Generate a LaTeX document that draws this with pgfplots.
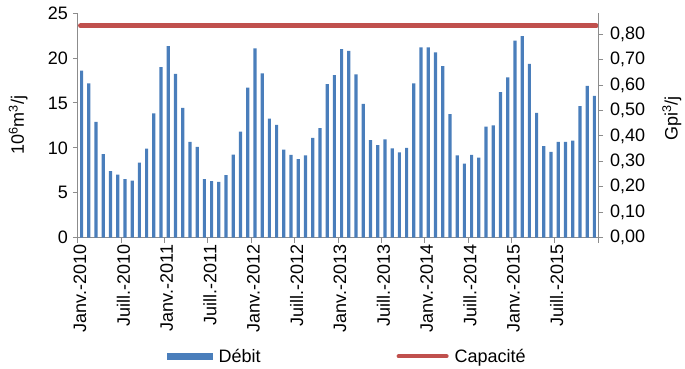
\documentclass[border=0pt]{standalone}
\usepackage{fontspec}
\setmainfont{Liberation Sans}
\usepackage{pgfplots}
\pgfplotsset{compat=1.18}
\definecolor{barblue}{HTML}{4A7EBB}
\definecolor{capred}{HTML}{C0504D}
\definecolor{axgray}{HTML}{8C8C8C}
\newcommand{\fs}{\fontsize{18}{21}\selectfont}
\begin{document}
\begin{tikzpicture}
\begin{axis}[
  at={(0,0)}, anchor=south west,
  scale only axis, width=520pt, height=224.2pt,
  xmin=0, xmax=72, ymin=0, ymax=25,
  axis x line*=bottom, axis y line*=left,
  axis line style={axgray, line width=1pt},
  tick style={axgray, line width=1pt},
  tick align=outside, major tick length=5pt,
  xtick={0,6,12,18,24,30,36,42,48,54,60,66,72},
  xticklabels={Janv.-2010,Juill.-2010,Janv.-2011,Juill.-2011,Janv.-2012,Juill.-2012,Janv.-2013,Juill.-2013,Janv.-2014,Juill.-2014,Janv.-2015,Juill.-2015,},
  xticklabel style={rotate=90, anchor=east, font=\fs, inner sep=2pt, xshift=0pt, yshift=-2pt},
  ytick={0,5,10,15,20,25},
  yticklabel style={font=\fs, inner sep=2pt, xshift=-3pt},
  /pgf/number format/assume math mode=true,
  ylabel={10\textsuperscript{6}m\textsuperscript{3}/j},
  ylabel style={font=\fs, at={(axis description cs:-0.115,0.5)}, anchor=center},
  clip=false,
  legend style={at={(axis description cs:0.170,-0.53)}, anchor=west, draw=none, fill=none,
    legend columns=2, font=\fs, inner sep=0pt,
    nodes={inner sep=2pt},
    /tikz/every odd column/.append style={column sep=4pt},
    /tikz/every even column/.append style={column sep=134pt}},
]
\addplot[ybar, bar width=3.2pt, fill=barblue, draw=none,
  legend image code/.code={\fill[barblue] (0pt,-3.5pt) rectangle (46pt,3.5pt);}]
coordinates {
(0.5,18.6) (1.5,17.2) (2.5,12.9) (3.5,9.3) (4.5,7.4) (5.5,7.0) (6.5,6.5) (7.5,6.35) (8.5,8.35) (9.5,9.9) (10.5,13.85) (11.5,19.0)
(12.5,21.35) (13.5,18.25) (14.5,14.45) (15.5,10.65) (16.5,10.1) (17.5,6.5) (18.5,6.3) (19.5,6.2) (20.5,6.95) (21.5,9.25) (22.5,11.8) (23.5,16.7)
(24.5,21.1) (25.5,18.3) (26.5,13.25) (27.5,12.55) (28.5,9.8) (29.5,9.2) (30.5,8.75) (31.5,9.15) (32.5,11.1) (33.5,12.2) (34.5,17.1) (35.5,18.1)
(36.5,21.0) (37.5,20.8) (38.5,18.2) (39.5,14.9) (40.5,10.85) (41.5,10.3) (42.5,10.95) (43.5,9.95) (44.5,9.5) (45.5,10.0) (46.5,17.2) (47.5,21.2)
(48.5,21.2) (49.5,20.65) (50.5,19.1) (51.5,13.75) (52.5,9.15) (53.5,8.25) (54.5,9.2) (55.5,8.9) (56.5,12.35) (57.5,12.5) (58.5,16.2) (59.5,17.85)
(60.5,21.95) (61.5,22.45) (62.5,19.35) (63.5,13.9) (64.5,10.2) (65.5,9.55) (66.5,10.65) (67.5,10.65) (68.5,10.8) (69.5,14.65) (70.5,16.9) (71.5,15.8)
};
\addlegendentry{Débit}
\addplot[capred, line width=5pt, line cap=round,
  legend image code/.code={\draw[capred, line width=4pt, line cap=round] (2pt,0pt) -- (50pt,0pt);}]
coordinates {(0.35,23.6) (71.75,23.6)};
\addlegendentry{Capacité}
\end{axis}
\begin{axis}[
  at={(0,0)}, anchor=south west,
  scale only axis, width=520pt, height=224.2pt,
  xmin=0, xmax=72, ymin=0, ymax=0.88287,
  axis x line=none, axis y line*=right,
  axis line style={axgray, line width=1pt},
  tick style={axgray, line width=1pt},
  tick align=outside, major tick length=5pt,
  ytick={0,0.1,0.2,0.3,0.4,0.5,0.6,0.7,0.8},
  yticklabel style={font=\fs, inner sep=2pt, xshift=5pt, /pgf/number format/.cd, fixed, fixed zerofill, precision=2, use comma},
  /pgf/number format/assume math mode=true,
  ylabel={Gpi\textsuperscript{3}/j},
  ylabel style={font=\fs, at={(axis description cs:1.142,0.53)}, anchor=center, rotate=0},
]
\addplot[draw=none] coordinates {(0,0)};
\end{axis}
\pgfresetboundingbox
\useasboundingbox (-78pt,-131.5pt) rectangle (607pt,237.5pt);
\end{tikzpicture}
\end{document}
